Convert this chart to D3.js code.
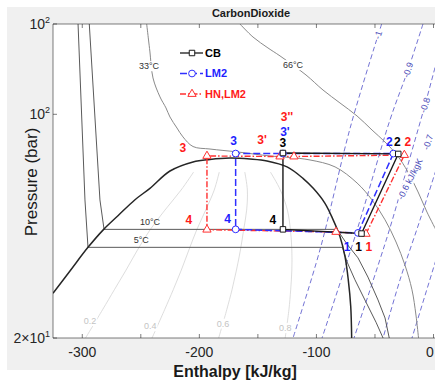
<!DOCTYPE html>
<html><head><meta charset="utf-8">
<script src="https://cdn.jsdelivr.net/npm/d3@7"></script>
<style>body{margin:0;background:#fff}svg{display:block;font-family:"Liberation Sans",Arial,sans-serif}</style>
</head><body><svg id="c" width="435" height="381"></svg>
<script>
// ---------- data (enthalpy kJ/kg, pressure bar) ----------
const hTicks = [-300,-250,-200,-150,-100,-50,0];
const hTickLabels = ['-300','','-200','','-100','','0'];
const pTicks = [20, 100, 191.5];
const pTickLabels = [['2\u00d710','1'],['10','2'],['10','2']];

const dome = [[-325,27.6],[-310.5,32.4],[-295.1,38.4],[-281.7,43.7],[-269.5,48.2],[-255.2,54.0],[-242.2,58.7],[-225.1,66.5],[-205.4,71.0],[-190.9,72.3],[-173.8,73.0],[-156.7,72.5],[-142.2,71.5],[-125.1,68.5],[-111.5,63.1],[-102.7,58.7],[-92.7,52.7],[-85.6,46.7],[-79.9,41.5],[-75.6,35.9],[-72.8,30.4],[-70.7,25.1],[-69.9,20]];

const iso5 = [[-303.6,191.5],[-297.7,54],[-295.1,38.4],[-77.7,38.4],[-73.9,34.6],[-67.1,30.4],[-57.7,25.9],[-49.1,22.4],[-43.1,20]];
const iso10 = [[-294.0,191.5],[-284.9,54],[-281.4,43.7],[-82.4,43.7],[-73.9,39.3],[-64.5,35.6],[-56.0,31.0],[-47.4,26.3],[-41.4,23.1],[-37.8,20]];
const iso33 = [[-245.0,191.5],[-243.4,170.7],[-242.2,156.6],[-239.6,129.9],[-233.6,113.3],[-228.5,104.7],[-225.1,98.1],[-219.1,90.6],[-214.0,85.0],[-205.4,79.3],[-190.9,77.9],[-167.8,76.3],[-139.7,74.1],[-122.6,73.3],[-105.5,72.0],[-84.1,68.5],[-65.3,61.0],[-52.5,54.0],[-41.4,46.8],[-32.0,39.9],[-24.4,33.8],[-18.4,28.3],[-15.0,23.6],[-12.8,20]];
const iso66 = [[-165.3,191.5],[-154.2,174.4],[-141.4,161.2],[-131.1,152.2],[-108.9,132.7],[-94.4,119.1],[-79.9,108.5],[-65.3,98.8],[-52.5,89.3],[-41.4,81.9],[-31.2,74.6],[-21.8,66.0],[-13.2,57.2],[-5.6,49.5],[3.0,42.9]];
const tempLabels = [['33\u00b0C',-243.0,141.6],['66\u00b0C',-120.0,142.6],['10\u00b0C',-242.2,46.2],['5\u00b0C',-249.6,40.5]];

const q02 = [[-204.9,66.0],[-215.6,58.0],[-229.4,50.2],[-242.2,43.5],[-252.8,37.7],[-262.6,32.6],[-272.6,28.3],[-282.7,24.5],[-297.2,20]];
const q04 = [[-183.0,66.0],[-187.3,58.0],[-194.6,50.2],[-202.3,43.5],[-208.9,37.7],[-215.4,32.6],[-222.3,28.3],[-229.7,24.5],[-240.4,20]];
const q06 = [[-161.2,66.0],[-159.0,58.0],[-159.6,50.2],[-162.2,43.5],[-164.9,37.7],[-168.3,32.6],[-172.1,28.3],[-176.6,24.5],[-183.5,20]];
const q08 = [[-139.3,66.0],[-130.8,58.0],[-124.8,50.2],[-122.2,43.5],[-121.0,37.7],[-121.0,32.6],[-122.0,28.3],[-123.5,24.5],[-126.7,20]];
const qLabels = [['0.2',-293.4,22.6],['0.4',-241.9,21.8],['0.6',-179.8,22.2],['0.8',-126.6,21.5]];

const sM10 = [[-44.3,191.5],[-70.5,92.6],[-97.0,37.7],[-120.0,20]];
const sM09 = [[-9.0,191.5],[-21.8,137.6],[-37.2,96.0],[-65.3,43.5],[-95.2,20]];
const sM08 = [[3.0,147.9],[-7.3,106.9],[-19.2,75.2],[-38.0,43.2],[-67.9,20]];
const sM07 = [[2.1,67.0],[-11.5,46.8],[-28.6,30.4],[-43.1,20]];
const sM06 = [[2.1,35.1],[-18.4,20]];
const sLabels = [['-1',-47.4,177.0,-72],['-0.9',-21.8,137.6,-72],['-0.8',-7.3,106.9,-72],['-0.7',-4.7,81.9,-72],['-0.6 kJ/kgK',-20.1,62.8,-63]];

const cycleCB  = [[-61.5,42.4],[-30.1,75.2],[-128.6,75.7],[-128.6,43.7],[-61.5,42.4]];
const cycleLM2 = [[-64.5,42.6],[-34.3,75.4],[-128.6,75.4],[-169.0,75.4],[-169.0,43.7],[-64.5,42.6]];
const cycleHN  = [[-57.7,42.3],[-24.9,74.6],[-119.2,73.8],[-131.1,73.8],[-193.5,74.1],[-193.5,43.6],[-83.3,42.9],[-57.7,42.3]];
const labelsCB  = ['1','2','3','4'];
const labelsLM2 = ['1','2',"3'",'3','4'];
const labelsHN  = ['1','2',"3''","3'",'3','4'];
const seriesNames = ['CB','LM2','HN,LM2'];

// ---------- layout / style ----------
const svg = d3.select('#c');
const W = 435, Hh = 381;
const L = 53, T = 24, B = 338;
svg.append('rect').attr('width',W).attr('height',Hh).attr('fill','#fff');
svg.append('rect').attr('x',7).attr('y',7).attr('width',W-7).attr('height',363).attr('fill','#f0f0f0');
svg.append('rect').attr('x',L).attr('y',T).attr('width',W-L).attr('height',B-T).attr('fill','#fff');

const x = d3.scaleLinear().domain([-325,5]).range([L, L+330*1.1708]);
const y = d3.scaleLog().domain([20,191.5]).range([B,T]);

svg.append('clipPath').attr('id','clip').append('rect').attr('x',L).attr('y',T).attr('width',W-L).attr('height',B-T);
const g = svg.append('g').attr('clip-path','url(#clip)');

const line = d3.line().defined(d=>d).x(d=>x(d[0])).y(d=>y(d[1])).curve(d3.curveCatmullRom.alpha(0.5));
const straight = d3.line().x(d=>x(d[0])).y(d=>y(d[1]));

function path(data, color, w, dash, gen){
  return g.append('path').attr('d',(gen||line)(data)).attr('fill','none').attr('stroke',color)
    .attr('stroke-width',w).attr('stroke-dasharray',dash||null);
}
[q02,q04,q06,q08].forEach(d=>path(d,'#d4d4d4',0.8));
[sM10,sM09,sM08,sM07,sM06].forEach(d=>path(d,'#6363cf',0.9,'5,3'));
path(iso33,'#8a8a8a',1);
path(iso66,'#8a8a8a',1);
path(iso5,'#5a5a5a',1,null,straight);
path(iso10,'#5a5a5a',1,null,straight);
path(dome,'#262626',1.5);

function textLabel(t, hx, py, size, color, rot, bg){
  const px = x(hx), py2 = y(py);
  const grp = g.append('g').attr('transform',`translate(${px},${py2}) rotate(${rot||0})`);
  const tx = grp.append('text').attr('text-anchor','middle').attr('dy','0.35em')
    .attr('font-size',size).attr('fill',color).text(t);
  if(bg){
    const bb = tx.node().getBBox();
    grp.insert('rect','text').attr('x',bb.x-1).attr('y',bb.y).attr('width',bb.width+2).attr('height',bb.height).attr('fill','#fff');
  }
}
qLabels.forEach(d=>textLabel(d[0],d[1],d[2],9,'#c4c4c4',0,true));
tempLabels.forEach((d,i)=>textLabel(d[0],d[1],d[2],9,'#333',0,i<2));
sLabels.forEach(d=>textLabel(d[0],d[1],d[2],9,'#4a4ab8',d[3],true));

const styles = [
  {data:cycleCB, color:'#1a1a1a', dash:null, marker:'square', labels:labelsCB, lcolor:'#000', w:1.4,
   off:[[-3,13.5],[-1,-12],[0,-10],[-10,-10]]},
  {data:cycleLM2, color:'#2f2fff', dash:'7,3', marker:'circle', labels:labelsLM2, lcolor:'#1f1fff', w:1.5,
   off:[[-11,14],[-4,-11.5],[2,-22],[-2,-12.5],[-8,-10.5]]},
  {data:cycleHN, color:'#ff3030', dash:'6,2,1.5,2', marker:'triangle', labels:labelsHN, lcolor:'#ff1a1a', w:1.4,
   off:[[3,13],[3.5,-13],[-7,-39.5],[-18,-16.5],[-24,-8],[-18,-10]]}
];
const sym = {square:d3.symbolSquare, circle:d3.symbolCircle, triangle:d3.symbolTriangle};
const symSize = {square:30, circle:36, triangle:30};
[2,1,0].forEach(i=>{ const s = styles[i]; path(s.data, s.color, s.w, s.dash, straight); });
[2,1,0].forEach(i=>{
  const s = styles[i];
  g.selectAll(null).data(s.data.slice(0,-1)).enter().append('path')
    .attr('d',d3.symbol().type(sym[s.marker]).size(symSize[s.marker]))
    .attr('transform',d=>`translate(${x(d[0])},${y(d[1])})`)
    .attr('fill','#fff').attr('stroke',s.color).attr('stroke-width',1);
});
styles.forEach(s=>{
  s.labels.forEach((t,k)=>{
    const d = s.data[k];
    g.append('text').attr('x',x(d[0])+s.off[k][0]).attr('y',y(d[1])+s.off[k][1]).attr('dy','0.35em')
      .attr('text-anchor','middle').attr('font-size',12).attr('font-weight','bold').attr('fill',s.lcolor).text(t);
  });
});

styles.forEach((s,i)=>{
  const ly = 53 + i*20.5;
  svg.append('line').attr('x1',180).attr('x2',203).attr('y1',ly).attr('y2',ly)
    .attr('stroke',s.color).attr('stroke-width',1.3).attr('stroke-dasharray',s.dash);
  svg.append('path').attr('d',d3.symbol().type(sym[s.marker]).size(symSize[s.marker])())
    .attr('transform',`translate(192,${ly})`).attr('fill','#fff').attr('stroke',s.color);
  svg.append('text').attr('x',205).attr('y',ly).attr('dy','0.35em').attr('font-size',11)
    .attr('font-weight','bold').attr('fill',s.lcolor).text(seriesNames[i]);
});

const ax = svg.append('g').attr('stroke','#262626').attr('stroke-width',0.6);
ax.append('line').attr('x1',L).attr('x2',W).attr('y1',T).attr('y2',T);
ax.append('line').attr('x1',L).attr('x2',W).attr('y1',B).attr('y2',B);
ax.append('line').attr('x1',L).attr('x2',L).attr('y1',T).attr('y2',B);
hTicks.forEach((v,i)=>{
  ax.append('line').attr('x1',x(v)).attr('x2',x(v)).attr('y1',B).attr('y2',B-4);
  ax.append('line').attr('x1',x(v)).attr('x2',x(v)).attr('y1',T).attr('y2',T+4);
  if(hTickLabels[i]) svg.append('text').attr('x',Math.min(x(v),430)).attr('y',B+19).attr('text-anchor','middle')
     .attr('font-size',14).attr('fill','#262626').text(hTickLabels[i]);
});
pTicks.forEach((v,i)=>{
  ax.append('line').attr('x1',L).attr('x2',L+4).attr('y1',y(v)).attr('y2',y(v));
  const t = svg.append('text').attr('x',50).attr('y',y(v)+5).attr('text-anchor','end')
     .attr('font-size',14).attr('fill','#262626');
  t.append('tspan').text(pTickLabels[i][0]);
  t.append('tspan').attr('dy',-6).attr('font-size',9).text(pTickLabels[i][1]);
});
svg.append('text').attr('x',235).attr('y',377).attr('text-anchor','middle').attr('font-size',16)
  .attr('font-weight','bold').attr('fill','#1a1a1a').text('Enthalpy [kJ/kg]');
svg.append('text').attr('transform','translate(37,182) rotate(-90)').attr('text-anchor','middle')
  .attr('font-size',17).attr('fill','#1a1a1a').text('Pressure (bar)');
svg.append('text').attr('x',251).attr('y',17).attr('text-anchor','middle').attr('font-size',11)
  .attr('font-weight','bold').attr('fill','#1a1a1a').text('CarbonDioxide');
</script></body></html>
